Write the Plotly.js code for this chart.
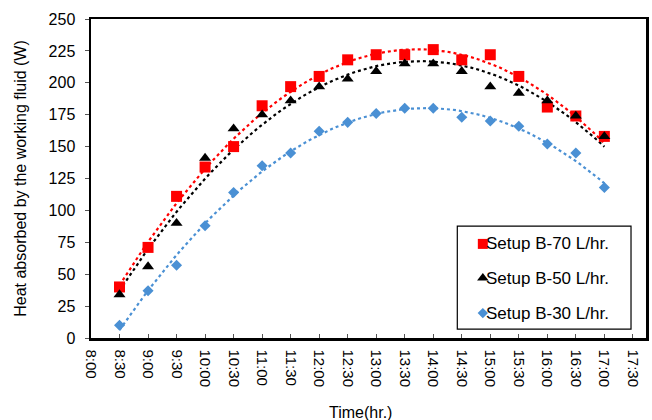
<!DOCTYPE html>
<html>
<head>
<meta charset="utf-8">
<script src="https://cdn.plot.ly/plotly-3.0.1.min.js"></script>
<style>html,body{margin:0;padding:0;background:#fff;}#chart{width:652px;height:420px;}</style>
</head>
<body>
<div id="chart"></div>
<script>
// Data
var times = ["8:30","9:00","9:30","10:00","10:30","11:00","11:30","12:00","12:30","13:00","13:30","14:00","14:30","15:00","15:30","16:00","16:30","17:00"];
var setupB70 = [40, 71, 111, 134, 150, 182, 197, 205, 218, 222, 222, 226, 218, 222, 205, 181, 174, 158];
var setupB50 = [34, 56, 90, 141, 164, 175, 186, 197, 203, 209, 215, 215, 209, 197, 192, 186, 174, 158];
var setupB30 = [10, 37, 57, 88, 114, 135, 145, 162, 169, 176, 180, 180, 173, 170, 166, 152, 145, 118];
var tickLabels = ["8:00","8:30","9:00","9:30","10:00","10:30","11:00","11:30","12:00","12:30","13:00","13:30","14:00","14:30","15:00","15:30","16:00","16:30","17:00","17:30"];
var seriesNames = ["Setup B-70 L/hr.","Setup B-50 L/hr.","Setup B-30 L/hr."];

function toHours(s){ var p = s.split(":"); return +p[0] + (+p[1])/60; }
var xh = times.map(toHours);
var tickVals = tickLabels.map(toHours);

// Order-2 polynomial least-squares trendline (as in the original spreadsheet trendline)
function polyfit2(x, y){
  var n=x.length, s1=0,s2=0,s3=0,s4=0,t0=0,t1=0,t2=0;
  for (var i=0;i<n;i++){var a=x[i],b=y[i];s1+=a;s2+=a*a;s3+=a*a*a;s4+=a*a*a*a;t0+=b;t1+=a*b;t2+=a*a*b;}
  var M=[[n,s1,s2,t0],[s1,s2,s3,t1],[s2,s3,s4,t2]];
  for (var c=0;c<3;c++){
    for (var r=c+1;r<3;r++){var f=M[r][c]/M[c][c];for(var k=c;k<4;k++)M[r][k]-=f*M[c][k];}
  }
  var co=[0,0,0];
  for (var r2=2;r2>=0;r2--){var s=M[r2][3];for(var k2=r2+1;k2<3;k2++)s-=M[r2][k2]*co[k2];co[r2]=s/M[r2][r2];}
  return co;
}
function trend(x, y){
  var co=polyfit2(x,y), xs=[], ys=[], x0=x[0], x1=x[x.length-1], N=80;
  for (var i=0;i<=N;i++){var v=x0+(x1-x0)*i/N; xs.push(v); ys.push(co[0]+co[1]*v+co[2]*v*v);}
  return {x:xs,y:ys};
}

var red='#FF0000', black='#000000', blue='#4A90D4';
var colors=[red,black,blue];
var symbols=['square','triangle-up','diamond'];
var sizes=[11,10.5,8.5];
var legendSizes=[10,10,8];
var seriesData=[setupB70,setupB50,setupB30];

var data = [];
seriesData.forEach(function(ys,i){
  var t=trend(xh,ys);
  data.push({x:t.x,y:t.y,mode:'lines',line:{color:colors[i],width:2.2,dash:'dot'},showlegend:false,hoverinfo:'skip'});
});
seriesData.forEach(function(ys,i){
  data.push({x:xh,y:ys,mode:'markers',name:seriesNames[i],showlegend:false,
             marker:{symbol:symbols[i],size:sizes[i],color:colors[i]}});
});

// Custom legend (box, swatches, labels) in overlay coordinates
var legX0=0.660, legX1=0.973, legY0=0.028, legY1=0.351;
var legItemY=[0.295,0.188,0.078];
var legSymX=0.706, legTextX=0.708;
legItemY.forEach(function(yy,i){
  data.push({x:[legSymX],y:[yy],xaxis:'x2',yaxis:'y2',mode:'markers',showlegend:false,hoverinfo:'skip',
             marker:{symbol:symbols[i],size:legendSizes[i],color:colors[i]}});
});

var fam='Liberation Sans, Arial, sans-serif';
var annotations = legItemY.map(function(yy,i){
  return {xref:'paper',yref:'paper',x:legTextX,y:yy,xanchor:'left',yanchor:'middle',showarrow:false,
          text:seriesNames[i],font:{family:fam,size:17,color:'#000'}};
});
annotations.push({xref:'paper',yref:'paper',x:0.486,y:-0.235,xanchor:'center',yanchor:'middle',showarrow:false,
          text:'Time(hr.)',font:{family:fam,size:16,color:'#000'}});

var layout = {
  width:652, height:420,
  margin:{l:91,r:6,t:19,b:82},
  paper_bgcolor:'#fff', plot_bgcolor:'#fff',
  font:{family:fam,size:15,color:'#000'},
  showlegend:false,
  xaxis:{range:[8,17.73],tickvals:tickVals,ticktext:tickLabels,tickangle:90,
         ticks:'inside',ticklen:4,tickwidth:1,tickcolor:'#555',showgrid:false,zeroline:false,
         showline:true,linecolor:'#000',linewidth:2.5,mirror:true,ticklabelstandoff:6,
         tickfont:{family:fam,size:15,color:'#000'}},
  yaxis:{range:[0,250],dtick:25,tick0:0,ticks:'outside',ticklen:4,tickwidth:1,tickcolor:'#555',showgrid:false,zeroline:false,
         showline:true,linecolor:'#000',linewidth:2.5,mirror:true,ticklabelstandoff:6,
         tickfont:{family:fam,size:16,color:'#000'},
         title:{text:'Heat absorbed by the working fluid (W)',font:{family:fam,size:16,color:'#000'},standoff:18}},
  xaxis2:{overlaying:'x',range:[0,1],visible:false,fixedrange:true},
  yaxis2:{overlaying:'y',range:[0,1],visible:false,fixedrange:true},
  shapes:[{type:'rect',xref:'paper',yref:'paper',x0:legX0,x1:legX1,y0:legY0,y1:legY1,
           line:{color:'#000',width:1.2},fillcolor:'#fff',layer:'below'}],
  annotations:annotations
};

Plotly.newPlot('chart', data, layout, {displayModeBar:false, staticPlot:true});
</script>
</body>
</html>
